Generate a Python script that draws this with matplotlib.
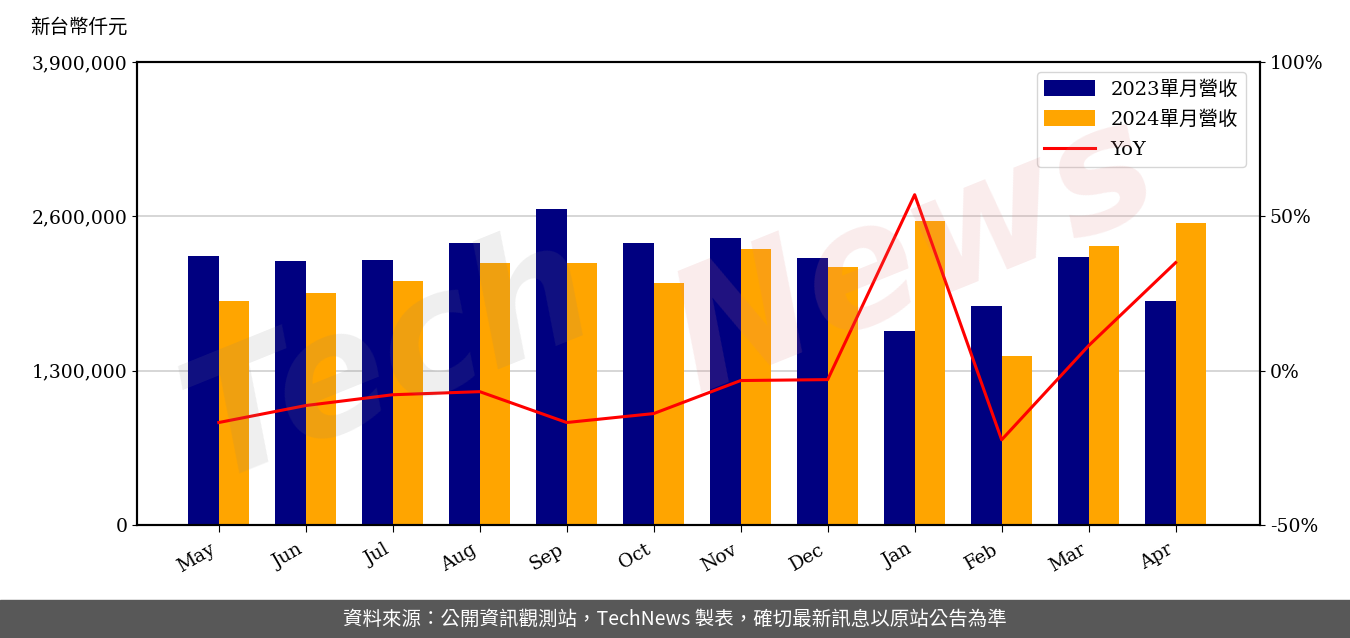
import matplotlib
matplotlib.use("Agg")
import matplotlib.pyplot as plt
import numpy as np
from matplotlib.ticker import FuncFormatter, FixedLocator

months = ["May", "Jun", "Jul", "Aug", "Sep", "Oct", "Nov", "Dec", "Jan", "Feb", "Mar", "Apr"]
rev_2023 = [2265800, 2223700, 2232100, 2375300, 2661700, 2375300, 2417400, 2248900,
            1634100, 1844600, 2257400, 1886800]
rev_2024 = [1886800, 1954100, 2055200, 2206800, 2206800, 2038400, 2324700, 2173100,
            2560600, 1423500, 2350000, 2543700]
yoy = [-16.8, -11.3, -7.8, -6.8, -16.8, -13.9, -3.2, -2.9, 57.0, -22.4, 8.1, 35.0]

label_2023 = "2023單月營收"
label_2024 = "2024單月營收"
label_yoy = "YoY"
ylabel = "新台幣仟元"
footer = "資料來源：公開資訊觀測站，TechNews 製表，確切最新訊息以原站公告為準"

serif = ["DejaVu Serif", "Noto Sans CJK TC"]
plt.rcParams["font.family"] = serif

fig = plt.figure(figsize=(13.5, 6.38), dpi=100)
ax = fig.add_axes([137/1350, 1-525/638, (1260-137)/1350, (525-62)/638])
ax2 = ax.twinx()

x = np.arange(len(months))
w = 0.35
ax.bar(x - w/2, rev_2023, w, color="#000080", label=label_2023, zorder=2)
ax.bar(x + w/2, rev_2024, w, color="#FFA500", label=label_2024, zorder=2)
ax.set_ylim(0, 3900000)
ax.yaxis.set_major_locator(FixedLocator([0, 1300000, 2600000, 3900000]))
ax.yaxis.set_major_formatter(FuncFormatter(lambda v, p: f"{int(v):,}"))
ax.grid(axis="y", color="#d0d0d0", linewidth=1.2, zorder=0)
ax.set_axisbelow(True)
ax.set_xlim(-0.94, 11.97)
ax.set_xticks(x)
ax.set_xticklabels(months, rotation=30, ha="right", fontsize=13.5)
ax.tick_params(axis="y", labelsize=13.5)
ax.tick_params(axis="x", length=5, pad=6)

ln, = ax2.plot(x, yoy, color="red", linewidth=2.2, label=label_yoy, zorder=3)
ax2.set_ylim(-50, 100)
ax2.set_yticks([-50, 0, 50, 100])
ax2.yaxis.set_major_formatter(FuncFormatter(lambda v, p: f"{int(v)}%"))
ax2.tick_params(axis="y", labelsize=13.5)

for a in (ax, ax2):
    for s in a.spines.values():
        s.set_linewidth(1.5)

h1, l1 = ax.get_legend_handles_labels()
leg = ax2.legend(h1 + [ln], l1 + [label_yoy], loc="upper right", fontsize=14,
                 frameon=True, fancybox=True, edgecolor="#cccccc",
                 bbox_to_anchor=((1246-137)/1123, (525-72)/463), borderaxespad=0,
                 handlelength=2.6, handleheight=0.9, labelspacing=0.6)

fig.text(30/1350, 1-27/638, ylabel, fontsize=14, va="center", ha="left")

# watermark
fig.text(390/1350, 1-360/638, "Tech", fontsize=120, fontweight="bold", style="italic",
         color="#808080", alpha=0.13, rotation=22, ha="center", va="center",
         family="DejaVu Sans", zorder=10)
fig.text(915/1350, 1-255/638, "News", fontsize=120, fontweight="bold", style="italic",
         color="#e08080", alpha=0.15, rotation=22, ha="center", va="center",
         family="DejaVu Sans", zorder=10)

# footer
fig.patches.append(plt.Rectangle((0, 0), 1, 38/638, transform=fig.transFigure,
                                 color="#585858", zorder=0))
fig.text(0.5, 19/638, footer, color="white", fontsize=14, ha="center", va="center",
         family=["Noto Sans CJK TC", "DejaVu Sans"])

fig.savefig("out.png", dpi=100)
